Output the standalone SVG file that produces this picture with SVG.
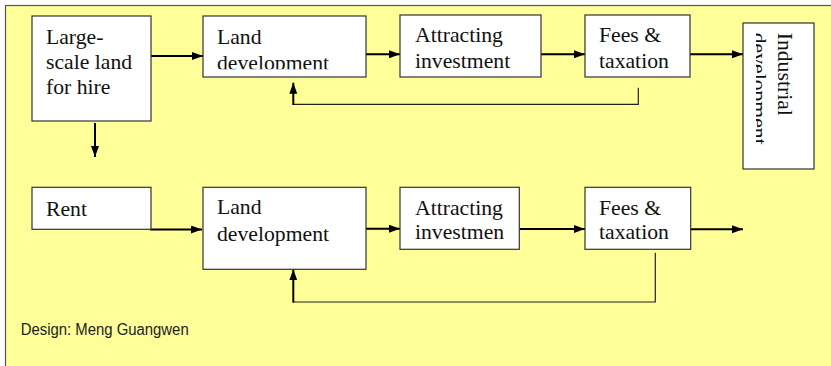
<svg xmlns="http://www.w3.org/2000/svg" width="831" height="366" viewBox="0 0 831 366">
<style>
.box{fill:#fff;stroke:#333;stroke-width:1.2}
.t{font-family:"Liberation Serif","Times New Roman",serif;font-size:21.7px;fill:#111}
.arr{stroke:#000;stroke-width:2;fill:none}
.thin{stroke:#222;stroke-width:1.2;fill:none}
.cap{font-family:"Liberation Sans",Arial,sans-serif;font-size:16px;fill:#222}
</style>
<defs>
<marker id="ah" markerUnits="userSpaceOnUse" markerWidth="11" markerHeight="8" refX="11" refY="4" orient="auto"><path d="M0,0 L11,4 L0,8 z" fill="#000"/></marker>
<clipPath id="c2"><rect x="203" y="16" width="163" height="53.3"/></clipPath>
<clipPath id="c5"><rect x="756" y="23" width="58" height="146"/></clipPath>
</defs>
<rect x="5.5" y="5.5" width="840" height="380" fill="#ffff99" stroke="#555" stroke-width="1.2"/>
<g id="connectors">
<line class="arr" x1="151" y1="56" x2="203" y2="56" marker-end="url(#ah)"/>
<line class="arr" x1="366" y1="54.3" x2="400" y2="54.3" marker-end="url(#ah)"/>
<line class="arr" x1="541" y1="54.3" x2="585" y2="54.3" marker-end="url(#ah)"/>
<line class="arr" x1="690" y1="54.3" x2="743" y2="54.3" marker-end="url(#ah)"/>
<polyline class="thin" points="638.3,87.7 638.3,104.3 293.3,104.3"/>
<line class="arr" x1="293.3" y1="105" x2="293.3" y2="82.7" marker-end="url(#ah)"/>
<line class="arr" x1="95" y1="123" x2="95" y2="157" marker-end="url(#ah)"/>
<polyline class="arr" points="150,229.5 202,229.5" marker-end="url(#ah)"/>
<line class="arr" x1="366" y1="228.7" x2="400" y2="228.7" marker-end="url(#ah)"/>
<line class="arr" x1="519.3" y1="229" x2="585" y2="229" marker-end="url(#ah)"/>
<line class="arr" x1="690.7" y1="229.3" x2="743" y2="229.3" marker-end="url(#ah)"/>
<polyline class="thin" points="655.3,252.7 655.3,302 293.3,302"/>
<line class="arr" x1="293.3" y1="302.6" x2="293.3" y2="269.3" marker-end="url(#ah)"/>
</g>
<g id="n1"><rect class="box" x="32" y="16" width="119" height="105"/>
<text class="t" x="46"><tspan x="46" y="44">Large-</tspan><tspan x="46" y="69">scale land</tspan><tspan x="46" y="94">for hire</tspan></text></g>
<g id="n2"><rect class="box" x="203" y="16" width="163" height="61"/>
<text class="t" clip-path="url(#c2)"><tspan x="217" y="44">Land</tspan><tspan x="217" y="70">development</tspan></text></g>
<g id="n3"><rect class="box" x="400" y="15" width="141" height="62"/>
<text class="t"><tspan x="415" y="41.7">Attracting</tspan><tspan x="415" y="67.7">investment</tspan></text></g>
<g id="n4"><rect class="box" x="585" y="15" width="105" height="62"/>
<text class="t"><tspan x="599" y="41.7">Fees &amp;</tspan><tspan x="599" y="67.7">taxation</tspan></text></g>
<g id="n5"><rect class="box" x="743" y="23" width="71" height="146"/>
<g clip-path="url(#c5)"><text class="t" transform="translate(778,32.7) rotate(90)"><tspan x="0" y="0">Industrial</tspan><tspan x="0" y="26">development</tspan></text></g></g>
<g id="n6"><rect class="box" x="32" y="187.3" width="119" height="42"/>
<text class="t" x="46" y="215.7">Rent</text></g>
<g id="n7"><rect class="box" x="203" y="187.3" width="163" height="82"/>
<text class="t"><tspan x="217" y="214.3">Land</tspan><tspan x="217" y="240.7">development</tspan></text></g>
<g id="n8"><rect class="box" x="400" y="187.3" width="119.3" height="62"/>
<text class="t"><tspan x="415" y="215">Attracting</tspan><tspan x="415" y="239.3">investmen</tspan></text></g>
<g id="n9"><rect class="box" x="585" y="187.3" width="105.7" height="62"/>
<text class="t"><tspan x="599" y="215">Fees &amp;</tspan><tspan x="599" y="239.3">taxation</tspan></text></g>
<text class="cap" x="20.7" y="335" textLength="168" lengthAdjust="spacingAndGlyphs">Design: Meng Guangwen</text>
</svg>
